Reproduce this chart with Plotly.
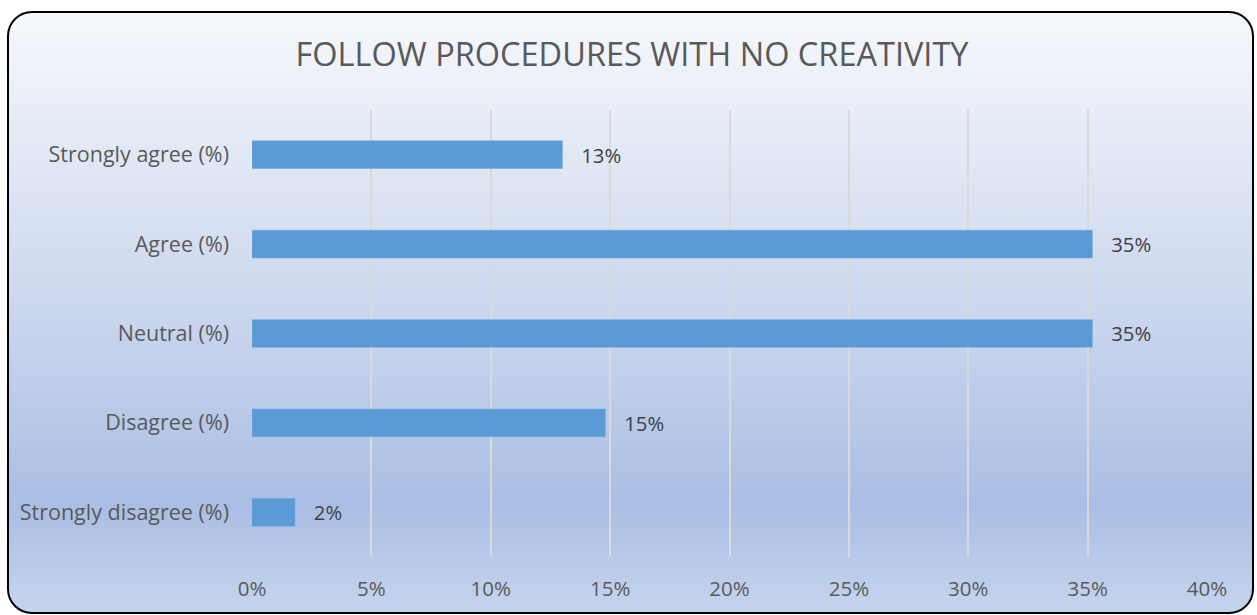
import plotly.graph_objects as go
import base64

categories = ["Strongly agree (%)", "Agree (%)", "Neutral (%)", "Disagree (%)", "Strongly disagree (%)"]
values = [13.0, 35.2, 35.2, 14.8, 1.8]
x_ticks = [0, 5, 10, 15, 20, 25, 30, 35, 40]
x_tick_labels = [f"{t}%" for t in x_ticks]
title_text = "FOLLOW PROCEDURES WITH NO CREATIVITY"

W, H = 1257, 615
ml, mr, mt, mb = 252, 50, 110, 58
pw, ph = W - ml - mr, H - mt - mb

svg = f"""<svg xmlns='http://www.w3.org/2000/svg' width='{W}' height='{H}' viewBox='0 0 {W} {H}' preserveAspectRatio='none'>
<defs><linearGradient id='g' x1='0' y1='0' x2='0' y2='1'>
<stop offset='0' stop-color='#F6F8FC'/>
<stop offset='0.45' stop-color='#CFDAEF'/>
<stop offset='0.82' stop-color='#AABEE4'/>
<stop offset='1' stop-color='#C6D5EE'/>
</linearGradient></defs>
<rect x='8' y='12' width='1245' height='601' rx='24' ry='24' fill='url(#g)' stroke='#000' stroke-width='2'/>
</svg>"""
src = "data:image/svg+xml;base64," + base64.b64encode(svg.encode()).decode()

fig = go.Figure()
fig.add_trace(go.Bar(
    y=categories, x=values, orientation="h",
    marker=dict(color="#5B9BD5", line=dict(color="#6FA8DC", width=0.5)),
    width=0.31,
    texttemplate="\u00a0\u00a0\u00a0%{x:.0f}%", textposition="outside",
    textfont=dict(family="Open Sans", size=20.5, color="#404040"),
    cliponaxis=False,
))

fig.add_layout_image(dict(
    source=src, xref="paper", yref="paper",
    x=-ml / pw, y=1 + mt / ph, sizex=W / pw, sizey=H / ph,
    sizing="stretch", xanchor="left", yanchor="top", layer="below",
))

fig.update_layout(
    width=W, height=H,
    margin=dict(l=ml, r=mr, t=mt, b=mb, pad=0),
    paper_bgcolor="white", plot_bgcolor="rgba(0,0,0,0)",
    title=dict(text=title_text, x=632 / W, xref="container", xanchor="center",
               y=(H - 55) / H, yref="container", yanchor="middle",
               font=dict(family="Open Sans", size=32.5, color="#595959")),
    showlegend=False,
    xaxis=dict(range=[0, 40], tickvals=x_ticks, ticktext=x_tick_labels,
               showgrid=True, gridcolor="#D9D9D9", gridwidth=1.5,
               zeroline=False, showline=False, ticks="",
               ticklabelstandoff=17,
               tickfont=dict(family="Open Sans", size=20.5, color="#595959")),
    yaxis=dict(categoryorder="array", categoryarray=categories, autorange="reversed",
               showgrid=False, zeroline=False, showline=False, ticks="",
               ticklabelstandoff=22,
               tickfont=dict(family="Open Sans", size=21.5, color="#595959")),
)

fig.write_html("out.html")
